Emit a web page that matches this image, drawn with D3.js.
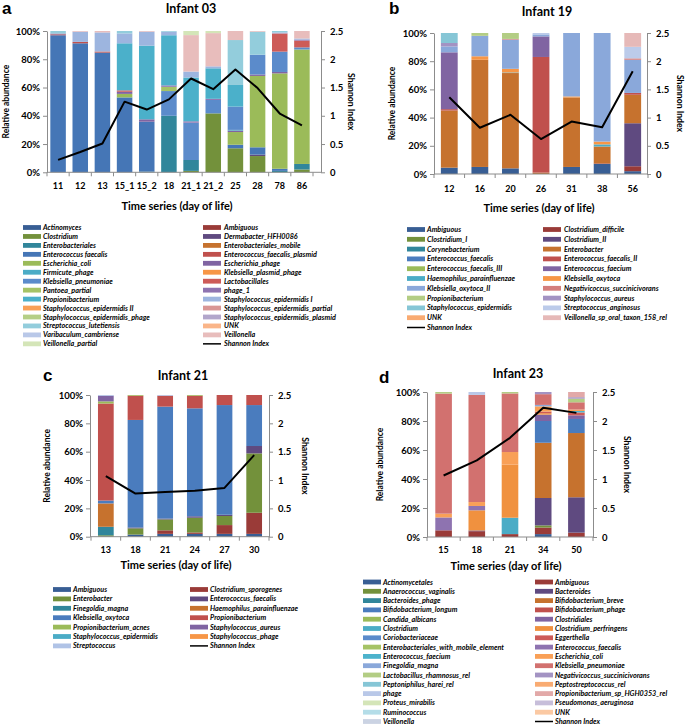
<!DOCTYPE html>
<html>
<head>
<meta charset="utf-8">
<script src="https://cdn.jsdelivr.net/npm/d3@7"></script>
<style>
  body { margin: 0; background: #fff; }
</style>
</head>
<body>
<svg id="fig" width="685" height="728"></svg>
<script>
// ---- panel a : Infant 03 ----
const daysA = ['11', '12', '13', '15_1', '15_2', '18', '21_1', '21_2', '25', '28', '78', '86'];
const shannonA = [0.22, 0.36, 0.51, 1.25, 1.11, 1.29, 1.66, 1.47, 1.82, 1.49, 1.04, 0.83];
const taxaA = ['Actinomyces', 'Ambiguous', 'Clostridium', 'Dermabacter_HFH0086', 'Enterobacteriales',
  'Enterobacteriales_mobile', 'Enterococcus faecalis', 'Enterococcus_faecalis_plasmid', 'Escherichia_coli',
  'Escherichia_phage', 'Firmicute_phage', 'Klebsiella_plasmid_phage', 'Klebsiella_pneumoniae', 'Lactobacillales',
  'Pantoea_partial', 'phage_1', 'Propionibacterium', 'Staphylococcus_epidermidis I', 'Staphylococcus_epidermidis II',
  'Staphylococcus_epidermidis_partial', 'Staphylococcus_epidermidis_phage', 'Staphylococcus_epidermidis_plasmid',
  'Streptococcus_lutetiensis', 'UNK', 'Varibaculum_cambriense', 'Veillonella', 'Veillonella_partial'];
// one row per taxon, one value (%) per sample
const abundA = [
  [0, 0, 0, 0, 0, 0, 0, 0, 0, 0, 0, 0],
  [0, 0, 0, 0, 0, 0, 0, 0, 0, 0, 0, 0],
  [0, 0, 0, 0, 0, 0, 1, 41.7, 17, 11.5, 0, 2],
  [0, 0, 0, 0, 0, 0, 0, 0, 0, 1, 0, 0],
  [0, 0, 0, 0, 0.5, 40, 7.7, 0, 0, 0, 1, 3.9],
  [0, 0, 0, 0, 0, 0, 0, 0, 0, 0, 0, 0],
  [97, 91.3, 84.7, 53, 35.3, 0, 0, 0, 2.5, 5.2, 1.5, 0],
  [0.6, 1, 0.8, 0, 0, 0, 0, 0, 0, 0, 0, 0],
  [0, 0, 0, 2.5, 0, 0, 0, 0, 9, 50.5, 67.5, 81],
  [0.6, 0, 0, 1.5, 1.7, 0, 0, 0, 1, 1, 1, 0],
  [0, 0, 0, 0, 0, 0, 0, 0, 0.5, 0, 0, 0],
  [0, 0, 0, 0, 0, 0, 0, 0, 0, 0, 0, 0],
  [0, 0, 0, 0, 0, 17.5, 26.4, 9.5, 16.5, 14, 14.4, 1.5],
  [0, 0, 0, 1, 0, 0, 0, 0, 0, 0, 12.9, 4.8],
  [0, 0, 0, 0, 0, 3, 0, 0, 0, 0, 0, 0],
  [0, 0, 0, 0, 0, 1, 1, 0.8, 0, 0, 0, 0.7],
  [0, 0, 0, 33.3, 52.1, 35.5, 31, 21.6, 15.3, 0, 0, 0],
  [0, 7.2, 13.5, 7, 9.9, 2.5, 4.2, 1.4, 0, 0, 0.7, 0.8],
  [0, 0, 0, 0, 0, 0, 0, 0, 0, 0, 0, 0],
  [0, 0, 0, 0, 0, 0, 0, 0, 0, 0, 0, 0],
  [0, 0, 0, 0, 0, 0, 0, 0, 0, 0, 0, 0],
  [0, 0, 0, 0, 0, 0, 0, 0, 0, 0, 0, 0],
  [1.8, 0, 0, 1.7, 0, 0.5, 0, 0, 31.8, 16.3, 1, 0],
  [0, 0, 0, 0, 0, 0, 0, 0, 0, 0, 0, 0],
  [0, 0, 0, 0, 0, 0, 0, 0, 0, 0, 0, 0],
  [0, 0.5, 1, 0, 0.5, 0, 25.8, 23.5, 6.4, 0.5, 0, 5.3],
  [0, 0, 0, 0, 0, 0, 2.9, 1.5, 0, 0, 0, 0]
];

// ---- panel b : Infant 19 ----
const daysB = ['12', '16', '20', '26', '31', '38', '56'];
const shannonB = [1.36, 0.82, 1.05, 0.62, 0.93, 0.83, 1.82];
const taxaB = ['Ambiguous', 'Clostridium_difficile', 'Clostridium_I', 'Clostridium_II', 'Corynebacterium',
  'Enterobacter', 'Enterococcus_faecalis', 'Enterococcus_faecalis_II', 'Enterococcus_faecalis_III',
  'Enterococcus_faecium', 'Haemophilus_parainfluenzae', 'Klebsiella_oxytoca', 'Klebsiella_oxytoca_II',
  'Negativicoccus_succinicivorans', 'Propionibacterium', 'Staphylococcus_aureus', 'Staphylococcus_epidermidis',
  'Streptococcus_anginosus', 'UNK', 'Veillonella_sp_oral_taxon_158_rel'];
const abundB = [
  [4.5, 5, 4, 0, 5, 7.1, 2],
  [0, 0, 0, 0, 0, 0.4, 3.5],
  [0, 0, 0, 0, 0, 0, 0],
  [0, 0, 0, 0, 0, 0, 30.5],
  [0, 0, 0, 0, 0, 0, 0],
  [40.5, 76, 67.6, 1, 49.3, 12, 20.2],
  [0, 0, 0, 0, 0, 0, 0],
  [1, 0, 0, 82, 0, 0, 1.3],
  [0, 0, 0, 0, 0, 0, 0],
  [40.3, 0, 0, 14.6, 0, 0, 0],
  [0, 0, 0.4, 0, 0, 1.5, 0],
  [0, 2.5, 2.6, 0, 0.7, 2, 0],
  [4.2, 14.5, 20.7, 1.4, 45, 77, 23.5],
  [0, 0, 0.5, 0, 0, 0, 1],
  [0, 2, 4.2, 0, 0, 0, 0],
  [2.4, 0, 0, 0, 0, 0, 0],
  [7.1, 0, 0, 0, 0, 0, 0],
  [0, 0, 0, 1, 0, 0, 8.2],
  [0, 0, 0, 0, 0, 0, 0],
  [0, 0, 0, 0, 0, 0, 9.8]
];

// ---- panel c : Infant 21 ----
const daysC = ['13', '18', '21', '24', '27', '30'];
const shannonC = [1.07, 0.76, 0.79, 0.81, 0.86, 1.44];
const taxaC = ['Ambiguous', 'Clostridium_sporogenes', 'Enterobacter', 'Enterococcus_faecalis', 'Finegoldia_magna',
  'Haemophilus_parainfluenzae', 'Klebsiella_oxytoca', 'Propionibacterium', 'Propionibacterium_acnes',
  'Staphylococcus_aureus', 'Staphylococcus_epidermidis', 'Staphylococcus_phage', 'Streptococcus'];
const abundC = [
  [0, 1.5, 2, 2, 2, 2],
  [0, 0, 2.5, 1, 6.2, 14.9],
  [1, 4.4, 7.7, 10.4, 6.4, 41.9],
  [0, 0.6, 0.6, 1, 0.9, 5.2],
  [6, 0, 0, 0, 0, 0],
  [16.5, 0, 0, 0, 0, 0],
  [2, 75.9, 79, 76.2, 77.4, 28.9],
  [68.5, 17.1, 7.7, 8.9, 7.1, 7.1],
  [1.5, 0.5, 0, 0.5, 0, 0],
  [4, 0, 0, 0, 0, 0],
  [0, 0, 0, 0, 0, 0],
  [0, 0, 0, 0, 0, 0],
  [0.5, 0, 0.5, 0, 0, 0]
];

// ---- panel d : Infant 23 ----
const daysD = ['15', '18', '21', '34', '50'];
const shannonD = [1.06, 1.32, 1.71, 2.23, 2.14];
const taxaD = ['Actinomycetales', 'Ambiguous', 'Anaerococcus_vaginalis', 'Bacteroides', 'Bacteroides_phage',
  'Bifidobacterium_breve', 'Bifidobacterium_longum', 'Bifidobacterium_phage', 'Candida_albicans', 'Clostridiales',
  'Clostridium', 'Clostridium_perfringens', 'Coriobacteriaceae', 'Eggerthella',
  'Enterobacteriales_with_mobile_element', 'Enterococcus_faecalis', 'Enterococcus_faecium', 'Escherichia_coli',
  'Finegoldia_magna', 'Klebsiella_pneumoniae', 'Lactobacillus_rhamnosus_rel', 'Negativicoccus_succinicivorans',
  'Peptoniphilus_harei_rel', 'Peptostreptococcus_rel', 'phage', 'Propionibacterium_sp_HGH0353_rel',
  'Proteus_mirabilis', 'Pseudomonas_aeruginosa', 'Ruminococcus', 'UNK', 'Veillonella'];
const abundD = [
  [0, 0, 0, 2, 0],
  [4.6, 4, 2, 4.5, 3],
  [0, 0, 0, 1.5, 0],
  [0, 0.5, 0, 18.9, 24.4],
  [0, 0, 0, 0, 0],
  [0, 0, 0, 38.1, 44.3],
  [0, 0, 0, 15, 9.7],
  [0, 0, 0, 0, 0],
  [0, 0, 0, 0, 0],
  [0, 0, 0, 4.4, 2.5],
  [0, 0, 11.3, 0, 0],
  [0, 13.9, 36.6, 1, 0],
  [0, 0, 0, 0, 0],
  [0, 0, 0, 1.1, 2],
  [0, 0, 0, 0, 0],
  [8.9, 3, 0, 0, 0],
  [0, 0, 0, 0, 1],
  [2.6, 2.7, 8.7, 3.6, 1],
  [0, 0, 0, 1, 0],
  [82.8, 73.9, 40.4, 7.4, 5],
  [1.1, 0, 1, 0, 2.5],
  [0, 0, 0, 1.5, 1],
  [0, 0, 0, 0, 0],
  [0, 0, 0, 0, 0],
  [0, 2, 0, 0, 0],
  [0, 0, 0, 0, 3.6],
  [0, 0, 0, 0, 0],
  [0, 0, 0, 0, 0],
  [0, 0, 0, 0, 0],
  [0, 0, 0, 0, 0],
  [0, 0, 0, 0, 0]
];

// excel-like colours, one per taxon (same order as the taxa lists)
const colorsA = ['#385e94', '#9a3b38', '#73913b', '#5f4a80', '#31869b', '#c6722e', '#4576b6', '#c0504d',
  '#9bbb59', '#8064a2', '#4bacc6', '#f79646', '#5b8bcb', '#cd5b58', '#a5c366', '#8e73b0', '#4bb0ca',
  '#9db5df', '#f9a057', '#d99694', '#b5cf86', '#b2a6cb', '#93cddc', '#fab589', '#b9c8e8', '#e8bdbc', '#d4e5b8'];
const colorsB = ['#385e94', '#9a3b38', '#73913b', '#5f4a80', '#31869b', '#c6722e', '#4a7cbe', '#c0504d',
  '#9bbb59', '#8064a2', '#4bacc6', '#f79646', '#8aa8da', '#d47e7c', '#b3cd84', '#a393c3', '#86c6d6',
  '#bccbea', '#f9ab72', '#e6b9b8'];
const colorsC = ['#385e94', '#9a3b38', '#73913b', '#5f4a80', '#31869b', '#c6722e', '#4a7cbe', '#c0504d',
  '#9bbb59', '#8064a2', '#4bacc6', '#f79646', '#b0c3e6'];
const colorsD = ['#385e94', '#9a3b38', '#73913b', '#5f4a80', '#31869b', '#c6722e', '#4a7cbe', '#c0504d',
  '#9bbb59', '#8064a2', '#4bacc6', '#f0913f', '#5b8bcb', '#cd5b58', '#a5c366', '#8e73b0', '#4db3cc',
  '#f9a057', '#8aa8da', '#d2716f', '#b3cd84', '#a393c3', '#86c6d6', '#f9ab72', '#b9c8e8', '#e2a9a8',
  '#d4e5b8', '#c7beda', '#b4dde8', '#fbc9a3', '#cbd3e3'];

const FONT = 'Lato, "Open Sans", sans-serif';
const AXIS_GREY = '#8c8c8c';
const svg = d3.select('#fig');

const panels = [
  { letter: 'a', title: 'Infant 03', days: daysA, shannon: shannonA, taxa: taxaA, abund: abundA, colors: colorsA,
    left: 47, right: 321, top: 31, bottom: 172.3, band: [47, 313], padIn: 0.3, padOut: 0.15,
    letterPos: [2, 14], titlePos: [191, 13], xLabelY: 189, xTitlePos: [177, 210], yTitleX: 6, rTitleX: 351,
    leg: { sx: [23, 203], tx: [43, 224], y0: 227.5, dy: 8.95 } },
  { letter: 'b', title: 'Infant 19', days: daysB, shannon: shannonB, taxa: taxaB, abund: abundB, colors: colorsB,
    left: 434, right: 647, top: 33, bottom: 174, band: [434, 648], padIn: 0.45, padOut: 0.225,
    letterPos: [389, 14], titlePos: [547, 16], xLabelY: 192, xTitlePos: [539, 212], yTitleX: 392, rTitleX: 680,
    leg: { sx: [407, 543], tx: [427, 564], y0: 229.5, dy: 9.8 } },
  { letter: 'c', title: 'Infant 21', days: daysC, shannon: shannonC, taxa: taxaC, abund: abundC, colors: colorsC,
    left: 90, right: 269, top: 395, bottom: 536.7, band: [91, 269], padIn: 0.47, padOut: 0.235,
    letterPos: [43, 381], titlePos: [183, 380], xLabelY: 553, xTitlePos: [176, 569], yTitleX: 47, rTitleX: 305,
    leg: { sx: [53, 190], tx: [73, 210], y0: 589.5, dy: 9.4 } },
  { letter: 'd', title: 'Infant 23', days: daysD, shannon: shannonD, taxa: taxaD, abund: abundD, colors: colorsD,
    left: 427, right: 593, top: 392, bottom: 537, band: [427, 593], padIn: 0.5, padOut: 0.25,
    letterPos: [379, 383], titlePos: [518, 378], xLabelY: 553, xTitlePos: [506, 570], yTitleX: 380, rTitleX: 627,
    leg: { sx: [363, 535], tx: [383, 555], y0: 582, dy: 9.3 } }
];

function styleAxis(sel) {
  sel.attr('font-family', FONT).attr('font-size', 9.5).attr('font-weight', 'bold');
  sel.select('.domain').attr('stroke', AXIS_GREY);
  sel.selectAll('.tick line').attr('stroke', AXIS_GREY);
  sel.selectAll('.tick text').attr('fill', '#000');
}

function drawPanel(p) {
  const g = svg.append('g');

  const x = d3.scaleBand().domain(p.days).range(p.band).paddingInner(p.padIn).paddingOuter(p.padOut);
  const y = d3.scaleLinear().domain([0, 100]).range([p.bottom, p.top]);
  const ys = d3.scaleLinear().domain([0, 2.5]).range([p.bottom, p.top]);

  // stacked bars
  const rows = p.days.map((d, j) => ({ day: d, vals: p.abund.map(r => r[j]) }));
  const series = d3.stack().keys(d3.range(p.taxa.length)).value((d, k) => d.vals[k])(rows);

  g.append('g').selectAll('g')
    .data(series)
    .join('g')
    .attr('fill', s => p.colors[s.key])
    .selectAll('rect')
    .data(s => s.filter(v => v[1] - v[0] > 0))
    .join('rect')
    .attr('x', v => x(v.data.day))
    .attr('width', x.bandwidth())
    .attr('y', v => y(v[1]))
    .attr('height', v => y(v[0]) - y(v[1]));

  // left axis
  g.append('g')
    .attr('transform', `translate(${p.left},0)`)
    .call(d3.axisLeft(y).tickValues(d3.range(0, 101, 20)).tickFormat(d => d + '%')
      .tickSize(4).tickSizeOuter(0).tickPadding(3))
    .call(styleAxis);

  // right axis
  g.append('g')
    .attr('transform', `translate(${p.right},0)`)
    .call(d3.axisRight(ys).tickValues([0, 0.5, 1, 1.5, 2, 2.5]).tickFormat(d => d)
      .tickSize(4).tickSizeOuter(0).tickPadding(5))
    .call(styleAxis);

  // x axis line + category ticks
  g.append('line')
    .attr('x1', p.left).attr('x2', p.right)
    .attr('y1', p.bottom).attr('y2', p.bottom)
    .attr('stroke', AXIS_GREY);

  const gap = (x.step() - x.bandwidth()) / 2;
  const bounds = p.days.map(d => x(d) - gap).concat([x(p.days[p.days.length - 1]) + x.bandwidth() + gap]);
  g.append('g').selectAll('line')
    .data(bounds)
    .join('line')
    .attr('x1', d => d).attr('x2', d => d)
    .attr('y1', p.bottom).attr('y2', p.bottom + 4)
    .attr('stroke', AXIS_GREY);

  g.append('g').selectAll('text')
    .data(p.days)
    .join('text')
    .attr('x', d => x(d) + x.bandwidth() / 2)
    .attr('y', p.xLabelY)
    .attr('text-anchor', 'middle')
    .attr('font-family', FONT).attr('font-size', 9).attr('font-weight', 'bold')
    .text(d => d);

  // shannon line
  const line = d3.line()
    .x((v, i) => x(p.days[i]) + x.bandwidth() / 2)
    .y(v => ys(v));
  g.append('path')
    .datum(p.shannon)
    .attr('d', line)
    .attr('fill', 'none')
    .attr('stroke', '#000')
    .attr('stroke-width', 2)
    .attr('stroke-linejoin', 'round');

  // titles
  g.append('text')
    .attr('x', p.letterPos[0]).attr('y', p.letterPos[1])
    .attr('font-family', '"Liberation Sans", Arial, sans-serif').attr('font-size', 17).attr('font-weight', 'bold')
    .text(p.letter);

  g.append('text')
    .attr('x', p.titlePos[0]).attr('y', p.titlePos[1])
    .attr('text-anchor', 'middle')
    .attr('font-family', FONT).attr('font-size', 12.5).attr('font-weight', 'bold')
    .text(p.title);

  g.append('text')
    .attr('x', p.xTitlePos[0]).attr('y', p.xTitlePos[1])
    .attr('text-anchor', 'middle')
    .attr('font-family', FONT).attr('font-size', 11).attr('font-weight', 'bold')
    .text('Time series (day of life)');

  const ymid = (p.top + p.bottom) / 2;
  g.append('text')
    .attr('transform', `translate(${p.yTitleX},${ymid}) rotate(-90)`)
    .attr('text-anchor', 'middle').attr('dominant-baseline', 'central')
    .attr('font-family', FONT).attr('font-size', 8.5).attr('font-weight', 'bold')
    .text('Relative abundance');

  g.append('text')
    .attr('transform', `translate(${p.rTitleX},${ymid}) rotate(90)`)
    .attr('text-anchor', 'middle').attr('dominant-baseline', 'central')
    .attr('font-family', FONT).attr('font-size', 8.7).attr('font-weight', 'bold')
    .text('Shannon Index');

  // legend, two columns filled row by row
  const entries = p.taxa.map((t, i) => ({ name: t, color: p.colors[i] }))
    .concat([{ name: 'Shannon Index', line: true }]);
  const leg = g.append('g');
  entries.forEach((e, k) => {
    const col = k % 2;
    const ly = p.leg.y0 + Math.floor(k / 2) * p.leg.dy;
    const sx = p.leg.sx[col];
    if (e.line) {
      leg.append('line')
        .attr('x1', sx).attr('x2', sx + 18).attr('y1', ly).attr('y2', ly)
        .attr('stroke', '#000').attr('stroke-width', 1.5);
    } else {
      leg.append('rect')
        .attr('x', sx).attr('y', ly - 2.4).attr('width', 18).attr('height', 4.8)
        .attr('fill', e.color);
    }
    leg.append('text')
      .attr('x', p.leg.tx[col]).attr('y', ly)
      .attr('dominant-baseline', 'central')
      .attr('font-family', FONT).attr('font-size', 7.2)
      .attr('font-weight', 'bold').attr('font-style', 'italic')
      .text(e.name);
  });
}

panels.forEach(drawPanel);
</script>
</body>
</html>
